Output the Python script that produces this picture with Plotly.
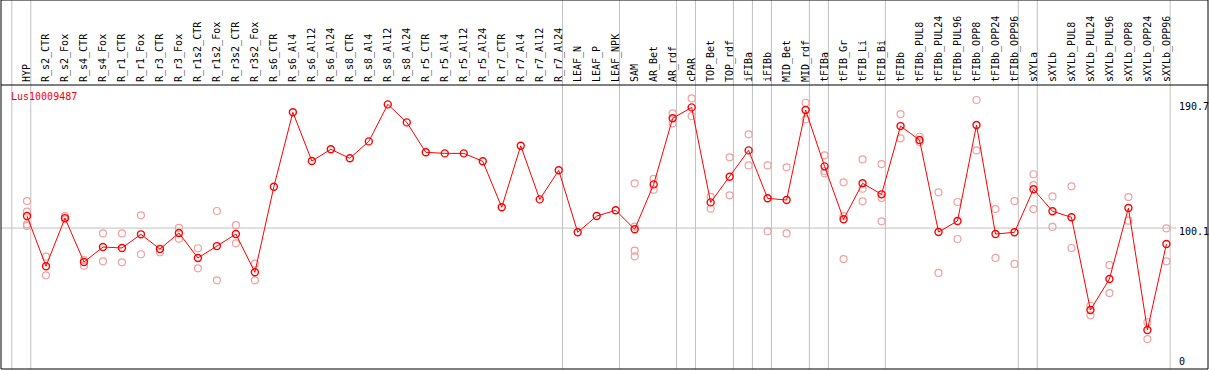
import plotly.graph_objects as go

categories = ["HYP", "R_s2_CTR", "R_s2_Fox", "R_s4_CTR", "R_s4_Fox", "R_r1_CTR", "R_r1_Fox",
              "R_r3_CTR", "R_r3_Fox", "R_r1s2_CTR", "R_r1s2_Fox", "R_r3s2_CTR", "R_r3s2_Fox",
              "R_s6_CTR", "R_s6_Al4", "R_s6_Al12", "R_s6_Al24", "R_s8_CTR", "R_s8_Al4",
              "R_s8_Al12", "R_s8_Al24", "R_r5_CTR", "R_r5_Al4", "R_r5_Al12", "R_r5_Al24",
              "R_r7_CTR", "R_r7_Al4", "R_r7_Al12", "R_r7_Al24", "LEAF_N", "LEAF_P", "LEAF_NPK",
              "SAM", "AR_Bet", "AR_rdf", "cPAR", "TOP_Bet", "TOP_rdf", "iFIBa", "iFIBb",
              "MID_Bet", "MID_rdf", "tFIBa", "tFIB_Gr", "tFIB_Li", "tFIB_Bi", "tFIBb",
              "tFIBb_PUL8", "tFIBb_PUL24", "tFIBb_PUL96", "tFIBb_OPP8", "tFIBb_OPP24",
              "tFIBb_OPP96", "sXYLa", "sXYLb", "sXYLb_PUL8", "sXYLb_PUL24", "sXYLb_PUL96",
              "sXYLb_OPP8", "sXYLb_OPP24", "sXYLb_OPP96"]

mean_values = [108.9, 72.1, 107.4, 75.2, 86.2, 85.5, 95.5, 84.7, 96.5, 78.2, 86.9, 95.7, 67.7,
               130.4, 184.9, 149.2, 157.8, 151.2, 163.6, 190.7, 177.5, 155.6, 154.8, 154.8,
               149.0, 115.3, 160.4, 121.1, 142.4, 97.0, 108.9, 113.1,
               99.2, 132.1, 180.5, 188.5, 118.9, 137.7, 157.0, 121.9, 120.6, 186.6, 145.3,
               106.5, 132.9, 124.8, 174.8, 164.6, 97.2, 105.3, 175.6, 95.7, 97.0,
               128.5, 112.4, 108.0, 40.1, 62.8, 114.8, 25.4, 88.4]

replicate_values = [
    [119.9, 112.1, 102.8, 101.6], [79.1, 65.5], [108.9, 106.5], [76.7, 72.5], [96.2, 75.7],
    [96.2, 75.0], [109.4, 80.9], [85.0, 82.3], [100.3, 92.3], [85.3, 70.6], [112.6, 61.8],
    [102.3, 88.9], [74.0, 61.8],
    [], [], [], [], [], [], [], [], [], [], [], [], [], [], [], [], [], [], [],
    [132.9, 101.1, 83.5, 79.4], [136.2, 128.2], [184.1, 176.8], [195.1, 182.2], [123.0, 114.3],
    [151.9, 124.1], [168.8, 146.0], [146.0, 97.7], [144.6, 96.2], [191.9, 179.7],
    [153.4, 141.9, 140.2], [133.6, 108.9, 77.4], [150.4, 128.9, 119.7], [147.0, 122.1, 105.0],
    [183.6, 165.8], [167.0, 163.1], [126.3, 67.2], [119.2, 92.1], [193.9, 157.0], [114.0, 78.2],
    [119.9, 73.8], [139.5, 131.6, 114.0], [123.3, 100.9], [130.7, 85.5], [43.2, 36.2],
    [73.0, 52.5], [122.8, 105.5], [31.1, 18.8], [99.9, 75.7]]

# group boundaries (vertical separators) after these category positions (1-based; 0 = before first)
separators_after = [0, 1, 29, 32, 35, 36, 38, 39, 40, 42, 43, 46, 53, 54, 61]

y_labels = [190.7, 100.1, 0]
title_text = "Lus10009487"

FONT = "DejaVu Sans Mono"
RED = "#FF0000"
PINK = "#F0A0A0"
GRID = "#C0C0C0"

W, H = 1209, 370
ML, MR, MT, MB = 1, 1, 85, 1
plot_w = W - ML - MR
plot_h = H - MT - MB
top_paper = 1 + MT / plot_h

xs = list(range(len(categories)))
rep_x, rep_y = [], []
for i, reps in enumerate(replicate_values):
    for v in reps:
        rep_x.append(i)
        rep_y.append(v)

fig = go.Figure()
fig.add_trace(go.Scatter(x=rep_x, y=rep_y, mode="markers",
                         marker=dict(symbol="circle-open", size=7, color=PINK, line=dict(width=1.2)),
                         hoverinfo="skip", showlegend=False, cliponaxis=False))
fig.add_trace(go.Scatter(x=xs, y=mean_values, mode="lines+markers",
                         line=dict(color=RED, width=1),
                         marker=dict(symbol="circle-open", size=7, color=RED, line=dict(width=1.4)),
                         showlegend=False))

spacing = 18.99
a = -(27 - ML) / spacing
b = a + plot_w / spacing

shapes = []
for s in separators_after:
    xpos = (s - 1) + 0.2
    shapes.append(dict(type="line", xref="x", yref="paper", x0=xpos, x1=xpos, y0=0, y1=top_paper,
                       line=dict(color=GRID, width=1), layer="below"))
# horizontal reference line at 100.1
shapes.append(dict(type="line", xref="paper", yref="y", x0=0, x1=(1176 - ML) / plot_w,
                   y0=100.1, y1=100.1, line=dict(color=GRID, width=1), layer="below"))
# frame
shapes.append(dict(type="rect", xref="paper", yref="paper", x0=0, x1=1, y0=0, y1=top_paper,
                   line=dict(color="black", width=1)))
shapes.append(dict(type="line", xref="paper", yref="paper", x0=0, x1=1, y0=1, y1=1,
                   line=dict(color="black", width=1)))

annotations = [dict(text=title_text, xref="paper", yref="paper", x=(9 - ML) / plot_w,
                    y=1, xanchor="left", yanchor="top", yshift=-4, showarrow=False,
                    font=dict(family=FONT, size=10, color=RED))]
shifts = {190.7: -2.4, 100.1: -3.7, 0: 3}
for v in y_labels:
    annotations.append(dict(text=str(v), xref="paper", yref="y", x=(1177 - ML) / plot_w,
                            y=v, xanchor="left", yanchor="middle", yshift=shifts[v], showarrow=False,
                            font=dict(family=FONT, size=10, color="black")))

fig.update_layout(
    width=W, height=H,
    margin=dict(l=ML, r=MR, t=MT, b=MB, pad=0, autoexpand=False),
    paper_bgcolor="white", plot_bgcolor="white",
    shapes=shapes, annotations=annotations,
    xaxis=dict(side="top", range=[a, b], tickmode="array", tickvals=xs, ticktext=categories,
               tickangle=-90, ticks="", showgrid=False, zeroline=False, showline=False,
               automargin=False, ticklabelstandoff=2,
               tickfont=dict(family=FONT, size=10, color="black")),
    yaxis=dict(range=[-3.15, 204.9], showticklabels=False, showgrid=False, zeroline=False,
               showline=False, ticks="", automargin=False),
)

fig.write_html("out.html", config={"displayModeBar": False},
               post_script="document.body.style.margin='0';document.body.style.overflow='hidden';")
